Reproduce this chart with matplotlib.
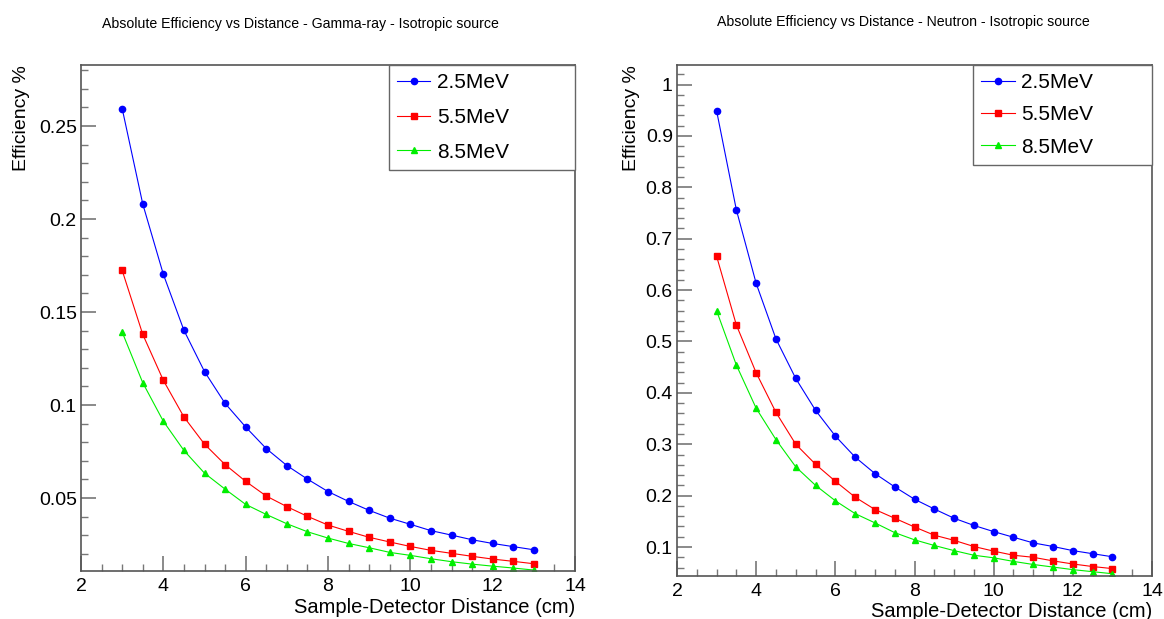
import numpy as np
import matplotlib
matplotlib.use("Agg")
import matplotlib.pyplot as plt
from matplotlib.ticker import MultipleLocator, FormatStrFormatter

plt.rcParams["font.family"] = ["Liberation Sans", "DejaVu Sans"]

# ===== Data =====
distance_cm = [3.0, 3.5, 4.0, 4.5, 5.0, 5.5, 6.0, 6.5, 7.0, 7.5, 8.0,
               8.5, 9.0, 9.5, 10.0, 10.5, 11.0, 11.5, 12.0, 12.5, 13.0]
energy_labels = ["2.5MeV", "5.5MeV", "8.5MeV"]

gamma_25 = [0.2594, 0.2081, 0.1703, 0.1402, 0.1180, 0.1009, 0.0882, 0.0766,
            0.0675, 0.0602, 0.0535, 0.0482, 0.0434, 0.0392, 0.0359, 0.0325,
            0.0301, 0.0276, 0.0256, 0.0239, 0.0222]
gamma_55 = [0.1724, 0.1380, 0.1133, 0.0936, 0.0790, 0.0680, 0.0590, 0.0511,
            0.0454, 0.0402, 0.0355, 0.0321, 0.0289, 0.0264, 0.0240, 0.0219,
            0.0203, 0.0187, 0.0172, 0.0160, 0.0147]
gamma_85 = [0.1392, 0.1120, 0.0913, 0.0756, 0.0634, 0.0548, 0.0466, 0.0412,
            0.0362, 0.0319, 0.0285, 0.0256, 0.0233, 0.0208, 0.0192, 0.0174,
            0.0158, 0.0145, 0.0134, 0.0124, 0.0113]

neutron_25 = [0.949, 0.756, 0.613, 0.505, 0.428, 0.366, 0.316, 0.275,
              0.243, 0.217, 0.193, 0.174, 0.156, 0.142, 0.130, 0.119,
              0.108, 0.101, 0.093, 0.087, 0.081]
neutron_55 = [0.666, 0.532, 0.439, 0.362, 0.300, 0.261, 0.228, 0.197,
              0.173, 0.156, 0.139, 0.123, 0.113, 0.101, 0.092, 0.084,
              0.080, 0.073, 0.067, 0.062, 0.058]
neutron_85 = [0.560, 0.454, 0.370, 0.309, 0.256, 0.220, 0.190, 0.165,
              0.147, 0.128, 0.114, 0.103, 0.093, 0.084, 0.079, 0.072,
              0.066, 0.061, 0.056, 0.052, 0.048]

# ===== Styles =====
STYLES = [
    dict(color="#0000ff", marker="o", markersize=4.5),
    dict(color="#ff0000", marker="s", markersize=4.5),
    dict(color="#00ee00", marker="^", markersize=4),
]
SPINE_COLOR = "#555555"


def style_axes(ax, ylim, y_major, y_minor):
    ax.set_xlim(2, 14)
    ax.set_ylim(*ylim)
    ax.xaxis.set_major_locator(MultipleLocator(2))
    ax.xaxis.set_minor_locator(MultipleLocator(0.5))
    ax.yaxis.set_major_locator(MultipleLocator(y_major))
    ax.yaxis.set_minor_locator(MultipleLocator(y_minor))
    ax.xaxis.set_major_formatter(FormatStrFormatter("%g"))
    ax.yaxis.set_major_formatter(FormatStrFormatter("%g"))
    ax.tick_params(which="both", direction="in", top=False, right=False,
                   color="#777777", labelsize=14)
    ax.tick_params(axis="y", pad=3)
    ax.tick_params(axis="x", pad=5)
    ax.tick_params(which="major", length=10.6, width=1.2)
    ax.tick_params(which="minor", length=5.3, width=1.0)
    for spine in ax.spines.values():
        spine.set_color(SPINE_COLOR)
        spine.set_linewidth(1.2)
    ax.set_ylabel("Efficiency %", fontsize=14, loc="top")
    ax.set_xlabel("Sample-Detector Distance (cm)", fontsize=14.5, loc="right")


def plot_panel(ax, series, ylim, y_major, y_minor, spacing):
    for values, label, style in zip(series, energy_labels, STYLES):
        ax.plot(distance_cm, values, lw=0.8, label=label, **style)
    style_axes(ax, ylim, y_major, y_minor)
    leg = ax.legend(loc="upper left", bbox_to_anchor=(0.623, 1.0, 0.377, 0.0),
                    mode="expand", borderaxespad=0, fancybox=False,
                    fontsize=15, handlelength=1.6, handletextpad=0.3,
                    labelspacing=spacing, borderpad=0.4, framealpha=1)
    leg.get_frame().set_edgecolor("#666666")
    leg.get_frame().set_linewidth(1.0)


fig = plt.figure(figsize=(11.64, 6.19), dpi=100)

ax_gamma = fig.add_axes([81 / 1164, 48 / 619, 494 / 1164, 506 / 619])
plot_panel(ax_gamma, [gamma_25, gamma_55, gamma_85], (0.0108, 0.2828),
           0.05, 0.01, 0.75)
ax_gamma.yaxis.set_label_coords(-0.103, 1.0)
ax_gamma.xaxis.set_label_coords(1.0, -0.073)
ax_gamma.xaxis.label.set_va("center")

ax_neutron = fig.add_axes([677 / 1164, 43 / 619, 475 / 1164, 511 / 619])
plot_panel(ax_neutron, [neutron_25, neutron_55, neutron_85], (0.0436, 1.038),
           0.1, 0.02, 0.63)
ax_neutron.yaxis.set_label_coords(-0.078, 1.0)
ax_neutron.xaxis.set_label_coords(1.0, -0.070)
ax_neutron.xaxis.label.set_va("center")

fig.text(300 / 1164, 1 - 24 / 619,
         "Absolute Efficiency vs Distance - Gamma-ray - Isotropic source",
         ha="center", va="center", fontsize=10.2)
fig.text(903 / 1164, 1 - 22 / 619,
         "Absolute Efficiency vs Distance - Neutron - Isotropic source",
         ha="center", va="center", fontsize=10.2)

fig.savefig("out.png", dpi=100)
